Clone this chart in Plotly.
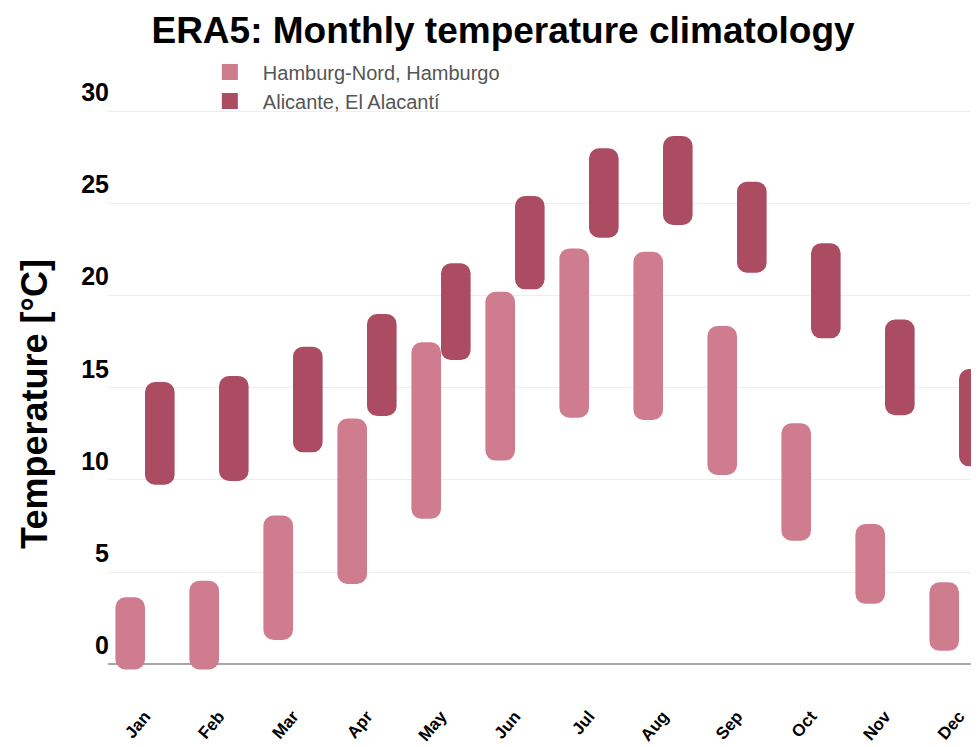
import plotly.graph_objects as go

months = ["Jan", "Feb", "Mar", "Apr", "May", "Jun", "Jul", "Aug", "Sep", "Oct", "Nov", "Dec"]

hamburg_name = "Hamburg-Nord, Hamburgo"
hamburg_low = [-0.28, -0.28, 1.32, 4.36, 7.89, 11.05, 13.38, 13.25, 10.27, 6.70, 3.28, 0.73]
hamburg_high = [3.64, 4.54, 8.07, 13.33, 17.47, 20.21, 22.56, 22.38, 18.35, 13.07, 7.61, 4.45]

alicante_name = "Alicante, El Alacantí"
alicante_low = [9.74, 9.95, 11.50, 13.47, 16.50, 20.34, 23.14, 23.83, 21.24, 17.68, 13.51, 10.74]
alicante_high = [15.31, 15.64, 17.23, 19.00, 21.75, 25.40, 27.99, 28.65, 26.18, 22.84, 18.70, 16.02]

y_ticks = [0, 5, 10, 15, 20, 25, 30]

FONT = "Liberation Sans, Arial, Helvetica, sans-serif"
series = [
    (hamburg_name, hamburg_low, hamburg_high, "#cf7c8f", "hamburg"),
    (alicante_name, alicante_low, alicante_high, "#ab4c63", "alicante"),
]

fig = go.Figure()
for name, low, high, color, grp in series:
    fig.add_trace(go.Bar(
        x=months, base=low, y=[h - l for l, h in zip(low, high)],
        name=name, legendgroup=grp, offsetgroup=grp, showlegend=False,
        marker=dict(color=color, cornerradius=10, line=dict(width=0)),
        customdata=list(zip(low, high)),
        hovertemplate="%{x}: %{customdata[0]:.1f} – %{customdata[1]:.1f} °C<extra>" + name + "</extra>",
    ))
    # legend entry
    fig.add_trace(go.Scatter(
        x=[None], y=[None], mode="markers", name=name, legendgroup=grp,
        marker=dict(symbol="square", size=18, color=color), showlegend=True,
        hoverinfo="skip",
    ))

fig.update_layout(
    width=971, height=739,
    margin=dict(l=100, r=0, t=94, b=41, autoexpand=False),
    paper_bgcolor="white", plot_bgcolor="white",
    barmode="group", bargap=0.2, bargroupgap=0,
    font=dict(family=FONT, color="#000"),
    title=dict(
        text="ERA5: Monthly temperature climatology",
        font=dict(family=FONT, size=37, color="#000", weight="bold"),
        x=0.5098, xanchor="center", xref="container",
        y=0.9702, yanchor="middle", yref="container",
    ),
    legend=dict(
        x=0.102, y=1.082, xanchor="left", yanchor="top",
        orientation="v", bgcolor="rgba(0,0,0,0)",
        font=dict(family=FONT, size=20, color="#555"),
        traceorder="normal", itemwidth=56, tracegroupgap=12,
    ),
    xaxis=dict(
        type="category", range=[-0.5, 11.27], automargin=False,
        showgrid=False, showline=False, zeroline=False, ticks="",
        tickangle=-50,
        tickfont=dict(family=FONT, size=17, color="#000", weight="bold"),
        ticklabelstandoff=-4,
    ),
    yaxis=dict(
        range=[-2.26, 30.5], tickvals=y_ticks, automargin=False,
        showgrid=True, gridcolor="#eeeeee", gridwidth=1,
        zeroline=True, zerolinecolor="#a6a6a6", zerolinewidth=2,
        showline=False, ticks="",
        tickfont=dict(family=FONT, size=25, color="#000", weight="bold"),
        ticklabelshift=-19, ticklabelstandoff=-2,
        title=dict(text="Temperature [°C]", standoff=22,
                   font=dict(family=FONT, size=36, color="#000", weight="bold")),
    ),
    hovermode="closest",
)

fig.write_html("out.html")
